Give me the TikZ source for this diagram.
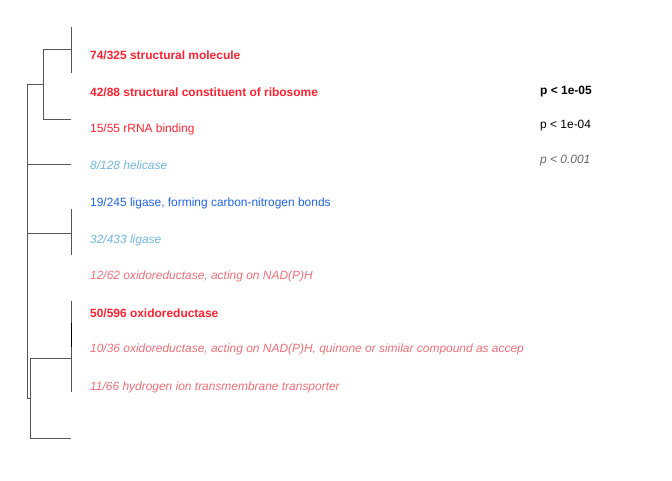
\documentclass[tikz,border=0pt]{standalone}
\usepackage{fontspec}
\setmainfont{Liberation Sans}
\definecolor{sigred}{RGB}{255,32,48}
\definecolor{lightred}{RGB}{240,110,120}
\definecolor{sigblue}{RGB}{30,100,232}
\definecolor{lightblue}{RGB}{110,182,226}
\definecolor{pgrey}{RGB}{100,100,100}
\definecolor{treecol}{RGB}{85,85,85}
\newcommand{\tfs}{\fontsize{11.95}{14}\selectfont}
\tikzset{
  term/.style={anchor=west, inner sep=0pt, font=\tfs},
  tree/.style={draw=treecol, line width=1pt},
  plabel/.style={anchor=west, inner sep=0pt, font=\tfs}
}
\begin{document}
\begin{tikzpicture}[x=1pt, y=-1pt]
\useasboundingbox (0,0) rectangle (672,480);
% tree
\coordinate (l1t) at (71,27); \coordinate (l1b) at (71,73);
\coordinate (a1) at (71,49); \coordinate (a0) at (43,49);
\coordinate (b0) at (43,119); \coordinate (b1) at (71,119);
\coordinate (c0) at (27,84); \coordinate (c1) at (43,84);
\coordinate (d0) at (27,164); \coordinate (d1) at (71,164);
\coordinate (e0) at (27,233); \coordinate (e1) at (71,233);
\coordinate (et) at (71,209); \coordinate (eb) at (71,255);
\coordinate (f0) at (27,398); \coordinate (f1) at (30,398);
\coordinate (g0) at (30,358); \coordinate (g1) at (71,358);
\coordinate (gt) at (71,301); \coordinate (gb) at (71,392);
\coordinate (h0) at (30,438); \coordinate (h1) at (71,438);
\draw[tree] (l1t) -- (l1b);
\draw[tree] (a0) -- (a1);
\draw[tree] (a0) -- (b0) -- (b1);
\draw[tree] (c0) -- (c1);
\draw[tree] (c0) -- (f0) -- (f1);
\draw[tree] (d0) -- (d1);
\draw[tree] (e0) -- (e1);
\draw[tree] (et) -- (eb);
\draw[tree] (gt) -- (gb);
\draw[tree, draw=black] (71,323) -- (71,347);
\draw[tree] (h1) -- (h0) -- (g0) -- (g1);
% terms
\begin{scope}
\clip (0,0) rectangle (523,480);
\node[term, text=sigred, font=\tfs\bfseries] (t1) at (90,55) {74/325 structural molecule};
\node[term, text=sigred, font=\tfs\bfseries] (t2) at (90,92) {42/88 structural constituent of ribosome};
\node[term, text=sigred] (t3) at (90,129) {15/55 rRNA binding};
\node[term, text=lightblue, font=\tfs\itshape] (t4) at (90,165) {8/128 helicase};
\node[term, text=sigblue] (t5) at (90,203) {19/245 ligase, forming carbon-nitrogen bonds};
\node[term, text=lightblue, font=\tfs\itshape] (t6) at (90,240) {32/433 ligase};
\node[term, text=lightred, font=\tfs\itshape] (t7) at (90,276) {12/62 oxidoreductase, acting on NAD(P)H};
\node[term, text=sigred, font=\tfs\bfseries] (t8) at (90,313) {50/596 oxidoreductase};
\node[term, text=lightred, font=\tfs\itshape] (t9) at (90,349) {10/36 oxidoreductase, acting on NAD(P)H, quinone or similar compound as acceptor};
\node[term, text=lightred, font=\tfs\itshape] (t10) at (90,387) {11/66 hydrogen ion transmembrane transporter};
\end{scope}
% legend
\node[plabel, font=\tfs\bfseries] (p1) at (540,92) {p < 1e-05};
\node[plabel] (p2) at (540,126) {p < 1e-04};
\node[plabel, text=pgrey, font=\tfs\itshape] (p3) at (540,161) {p < 0.001};
\end{tikzpicture}
\end{document}
